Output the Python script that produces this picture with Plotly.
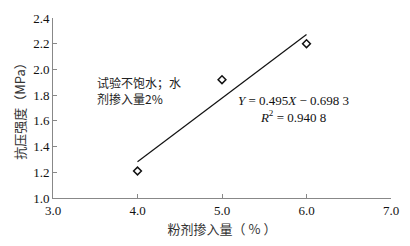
import numpy as np
import plotly.graph_objects as go

dosage = [4.0, 5.0, 6.0]
strength = [1.21, 1.92, 2.20]
fit_x = [4.0, 6.0]
x_ticks = [3.0, 4.0, 5.0, 6.0, 7.0]
y_ticks = [1.0, 1.2, 1.4, 1.6, 1.8, 2.0, 2.2, 2.4]

slope, intercept = np.polyfit(dosage, strength, 1)
fit_y = [slope * v + intercept for v in fit_x]

fig = go.Figure()
fig.add_trace(go.Scatter(x=fit_x, y=fit_y, mode="lines",
                         line=dict(color="#111111", width=1.2), showlegend=False))
fig.add_trace(go.Scatter(x=dosage, y=strength, mode="markers",
                         marker=dict(symbol="diamond-open", size=6, color="#111111",
                                     line=dict(width=1.5)), showlegend=False))

serif = "Liberation Serif"
cjk = "Noto Sans CJK SC"
fig.update_layout(
    width=410, height=246,
    margin=dict(l=53, r=11, t=18, b=47),
    paper_bgcolor="white", plot_bgcolor="white",
    xaxis=dict(range=[3.0, 7.0], tickvals=x_ticks, ticktext=[f"{v:.1f}" for v in x_ticks],
               showgrid=False, zeroline=False, showline=True, linecolor="#888888", linewidth=1,
               ticks="inside", ticklen=4, tickcolor="#888888",
               tickfont=dict(family=serif, size=13, color="#111111"),
               title=dict(text="粉剂掺入量（ % ）", font=dict(family=cjk, size=13, color="#333333"),
                          standoff=8)),
    yaxis=dict(range=[1.0, 2.4], tickvals=y_ticks, ticktext=[f"{v:.1f}" for v in y_ticks],
               showgrid=False, zeroline=False, showline=True, linecolor="#888888", linewidth=1,
               ticks="inside", ticklen=4, tickcolor="#888888",
               tickfont=dict(family=serif, size=13, color="#111111"),
               title=dict(text="抗压强度（MPa）", font=dict(family=cjk, size=13, color="#333333"),
                          standoff=4)),
)
fig.add_annotation(x=3.5, y=1.84, xref="x", yref="y", xanchor="left", yanchor="middle",
                   text="试验不饱水；水<br>剂掺入量2%", showarrow=False, align="left",
                   font=dict(family=cjk, size=12, color="#222222"))
fig.add_annotation(x=5.85, y=1.69, xref="x", yref="y", xanchor="center", yanchor="middle",
                   text=f"<i>Y</i> = {slope:.3f}<i>X</i> − 0.698 3<br><i>R</i><sup>2</sup> = 0.940 8",
                   showarrow=False, align="center",
                   font=dict(family=serif, size=13, color="#111111"))
fig.write_html("out.html")
